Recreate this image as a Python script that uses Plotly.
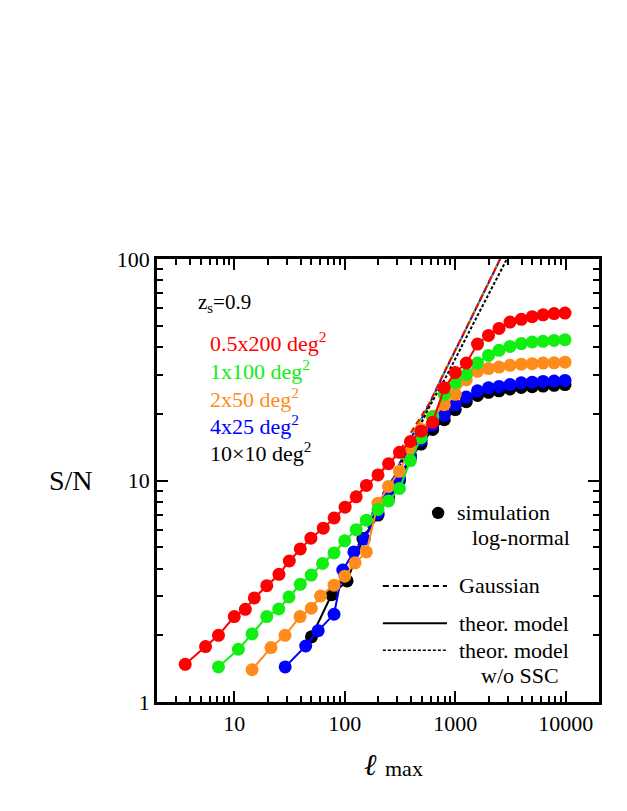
import plotly.graph_objects as go

# S/N vs l_max
ell_red = [3.6, 5.5, 7.2, 10, 12.6, 15.2, 19.7, 25.4, 31.5, 39.6, 49.4, 63.9, 80.2, 100.8, 127,
           157, 200, 249, 313, 393, 491, 625, 796, 1000, 1260, 1590, 2000, 2490, 3130, 3960,
           4970, 6240, 7850, 9850]
sn_red = [1.48, 1.78, 2.0, 2.43, 2.62, 2.95, 3.35, 3.77, 4.33, 4.91, 5.49, 6.09, 6.78, 7.58, 8.44,
          9.5, 10.6, 11.9, 13.4, 15.0, 16.7, 18.3, 26.2, 30.7, 33.9, 41.3, 45.2, 48.6, 51.9, 53.4,
          54.9, 56.0, 56.7, 57.0]

ell_green = [7.2, 10.9, 14.5, 19.7, 25.3, 31.3, 39.6, 49.8, 63, 80, 100, 127,
             157, 200, 249, 313, 393, 491, 625, 796, 1000, 1260, 1590, 2000, 2490, 3130, 3960,
             4970, 6240, 7850, 9850]
sn_green = [1.44, 1.73, 2.03, 2.43, 2.63, 2.98, 3.40, 3.74, 4.22, 4.71, 5.34, 6.0,
            6.62, 7.40, 8.09, 9.2, 12.3, 15.6, 19.3, 24.5, 27.6, 30.1, 33.9, 36.7, 38.7, 40.3, 41.5,
            42.2, 42.5, 42.9, 43.2]

ell_orange = [14.5, 21.5, 28.8, 39.4, 49.8, 60.4, 80, 100, 124,
              157, 200, 249, 313, 393, 491, 625, 796, 1000, 1260, 1590, 2000, 2490, 3130, 3960,
              4970, 6240, 7850, 9850]
sn_orange = [1.40, 1.76, 2.0, 2.43, 2.65, 3.01, 3.37, 3.70, 4.25,
             4.76, 7.9, 9.4, 11.0, 14.0, 17.0, 19.5, 22.0, 24.5, 28.5, 31.1, 32.0, 32.5, 33.1, 33.5,
             33.7, 33.9, 34.0, 34.2]

ell_blue = [28.9, 44.3, 57.5, 80, 96, 121, 150,
            200, 249, 313, 393, 491, 625, 796, 1000, 1260, 1590, 2000, 2490, 3130, 3960,
            4970, 6240, 7850, 9850]
sn_blue = [1.44, 1.79, 2.10, 2.49, 3.94, 4.76, 5.45,
           7.1, 8.6, 10.2, 13.0, 15.2, 17.8, 19.7, 21.9, 23.8, 25.4, 26.2, 26.6, 27.1, 27.6,
           27.8, 28.0, 28.1, 28.3]

ell_black = [50, 76, 105, 146,
             200, 249, 313, 393, 491, 625, 796, 1000, 1260, 1590, 2000, 2490, 3130, 3960,
             4970, 6240, 7850, 9850]
sn_black = [1.97, 3.05, 3.52, 5.47,
            6.98, 8.4, 10.0, 12.6, 14.6, 17.0, 18.8, 20.9, 22.7, 24.2, 25.0, 25.4, 25.9, 26.3,
            26.5, 26.7, 26.9, 27.1]

# Gaussian (dashed) curves, visible part
ell_gauss_red = [100, 200, 313, 410, 583, 824, 1200, 2540, 3000]
sn_gauss_red = [7.58, 10.6, 13.5, 16.9, 22.3, 32, 46.5, 100, 118]
ell_gauss_green = [100, 200, 300, 410, 583, 824, 1200, 2540, 3000]
sn_gauss_green = [5.34, 7.6, 11.0, 16.4, 22.1, 31.8, 46.3, 100, 118]
ell_gauss_orange = [100, 160, 250, 410, 583, 824, 1200, 2540, 3000]
sn_gauss_orange = [3.7, 5.5, 9.0, 15.8, 22.0, 31.7, 46.2, 100, 118]
ell_gauss_blue = [96, 160, 250, 410, 583, 824, 1200, 2540, 3000]
sn_gauss_blue = [3.9, 6.0, 9.3, 16.0, 22.1, 31.8, 46.3, 100, 118]

# theor. model w/o SSC (dotted)
ell_nossc = [200, 313, 583, 824, 1500, 2880, 3300]
sn_nossc = [7.2, 11.5, 21.5, 29.3, 52.5, 98, 112]

labels = ["0.5x200 deg<sup>2</sup>", "1x100 deg<sup>2</sup>", "2x50 deg<sup>2</sup>",
          "4x25 deg<sup>2</sup>", "10×10 deg<sup>2</sup>"]
colors = ["#ff0000", "#11ee11", "#ff8c1a", "#0000ff", "#000000"]

SERIF = "Liberation Serif"

fig = go.Figure()

gauss = [(ell_gauss_blue, sn_gauss_blue, colors[3]),
         (ell_gauss_orange, sn_gauss_orange, colors[2]),
         (ell_gauss_green, sn_gauss_green, colors[1]),
         (ell_gauss_red, sn_gauss_red, colors[0])]
for x, y, c in gauss:
    fig.add_trace(go.Scatter(x=x, y=y, mode="lines", line=dict(color=c, width=2, dash="6px,4px"),
                             hoverinfo="skip"))

fig.add_trace(go.Scatter(x=ell_nossc, y=sn_nossc, mode="lines",
                         line=dict(color="black", width=2, dash="3px,2px"), hoverinfo="skip"))

series = [(ell_black, sn_black, colors[4]),
          (ell_blue, sn_blue, colors[3]),
          (ell_orange, sn_orange, colors[2]),
          (ell_green, sn_green, colors[1]),
          (ell_red, sn_red, colors[0])]
for x, y, c in series:
    fig.add_trace(go.Scatter(x=x, y=y, mode="lines+markers",
                             line=dict(color=c, width=2),
                             marker=dict(color=c, size=13, line=dict(width=0))))

# axes
axis_common = dict(type="log", showgrid=False, zeroline=False, showline=True,
                   linecolor="black", linewidth=2.5, mirror="allticks",
                   ticks="inside", ticklen=11, tickwidth=2, tickcolor="black",
                   tickfont=dict(family=SERIF, size=22, color="black"))

minor_x = [2, 3, 4, 5, 6, 7, 8, 9, 20, 30, 40, 50, 60, 70, 80, 90,
           200, 300, 400, 500, 600, 700, 800, 900, 2000, 3000, 4000, 5000, 6000, 7000, 8000, 9000,
           20000]
minor_y = [2, 3, 4, 5, 6, 7, 8, 9, 20, 30, 40, 50, 60, 70, 80, 90]

fig.update_xaxes(**axis_common, range=[0.301, 4.301],
                 tickvals=[10, 100, 1000, 10000], ticktext=["10", "100", "1000", "10000"],
                 minor=dict(tickvals=minor_x, ticks="inside", ticklen=6, tickwidth=1.5,
                            tickcolor="black", showgrid=False))
fig.update_yaxes(**axis_common, range=[0, 2],
                 tickvals=[1, 10, 100], ticktext=["1", "10", "100"],
                 minor=dict(tickvals=minor_y, ticks="inside", ticklen=6, tickwidth=1.5,
                            tickcolor="black", showgrid=False))

ann = []
ann.append(dict(x=0.088, y=0.901, text="z<sub>s</sub>=0.9", xanchor="left", yanchor="middle",
                font=dict(size=21, color="black")))
label_y = [0.813, 0.749, 0.686, 0.625, 0.564]
for t, c, yy in zip(labels, colors, label_y):
    ann.append(dict(x=0.115, y=yy, text=t, xanchor="left", yanchor="middle",
                    font=dict(size=22, color=c)))

ann += [
    dict(x=0.674, y=0.427, text="simulation", xanchor="left", yanchor="middle"),
    dict(x=0.939, y=0.372, text="log-normal", xanchor="right", yanchor="middle"),
    dict(x=0.679, y=0.262, text="Gaussian", xanchor="left", yanchor="middle"),
    dict(x=0.679, y=0.178, text="theor. model", xanchor="left", yanchor="middle"),
    dict(x=0.679, y=0.117, text="theor. model", xanchor="left", yanchor="middle"),
    dict(x=0.914, y=0.059, text="w/o SSC", xanchor="right", yanchor="middle"),
]
for a in ann:
    a.update(xref="paper", yref="paper", showarrow=False)
    a.setdefault("font", dict(size=22, color="black"))
    a["font"]["family"] = SERIF

# axis titles
ann.append(dict(xref="paper", yref="paper", x=-0.14, y=0.5, text="S/N", showarrow=False,
                xanchor="right", yanchor="middle",
                font=dict(family=SERIF, size=28, color="black")))
ann.append(dict(xref="paper", yref="paper", x=0.503, y=-0.14, text="<i>ℓ</i>", showarrow=False,
                xanchor="right", yanchor="middle",
                font=dict(family=SERIF, size=30, color="black")))
ann.append(dict(xref="paper", yref="paper", x=0.512, y=-0.15, text="max", showarrow=False,
                xanchor="left", yanchor="middle",
                font=dict(family=SERIF, size=22, color="black")))

# legend samples
shapes = [
    dict(type="circle", xref="paper", yref="paper", x0=0.622, x1=0.650, y0=0.413, y1=0.441,
         fillcolor="black", line=dict(width=0)),
    dict(type="line", xref="paper", yref="paper", x0=0.511, x1=0.656, y0=0.262, y1=0.262,
         line=dict(color="black", width=2, dash="6px,4px")),
    dict(type="line", xref="paper", yref="paper", x0=0.511, x1=0.656, y0=0.178, y1=0.178,
         line=dict(color="black", width=2)),
    dict(type="line", xref="paper", yref="paper", x0=0.511, x1=0.656, y0=0.117, y1=0.117,
         line=dict(color="black", width=1.5, dash="3px,2px")),
]

# page body adds an 8px offset, so the figure is a bit smaller than the window
fig.update_layout(
    width=619, height=803,
    margin=dict(l=149, r=28, t=251, b=109),
    paper_bgcolor="white", plot_bgcolor="white",
    showlegend=False,
    annotations=ann,
    shapes=shapes,
    font=dict(family=SERIF, color="black"),
)

fig.write_html("out.html")
